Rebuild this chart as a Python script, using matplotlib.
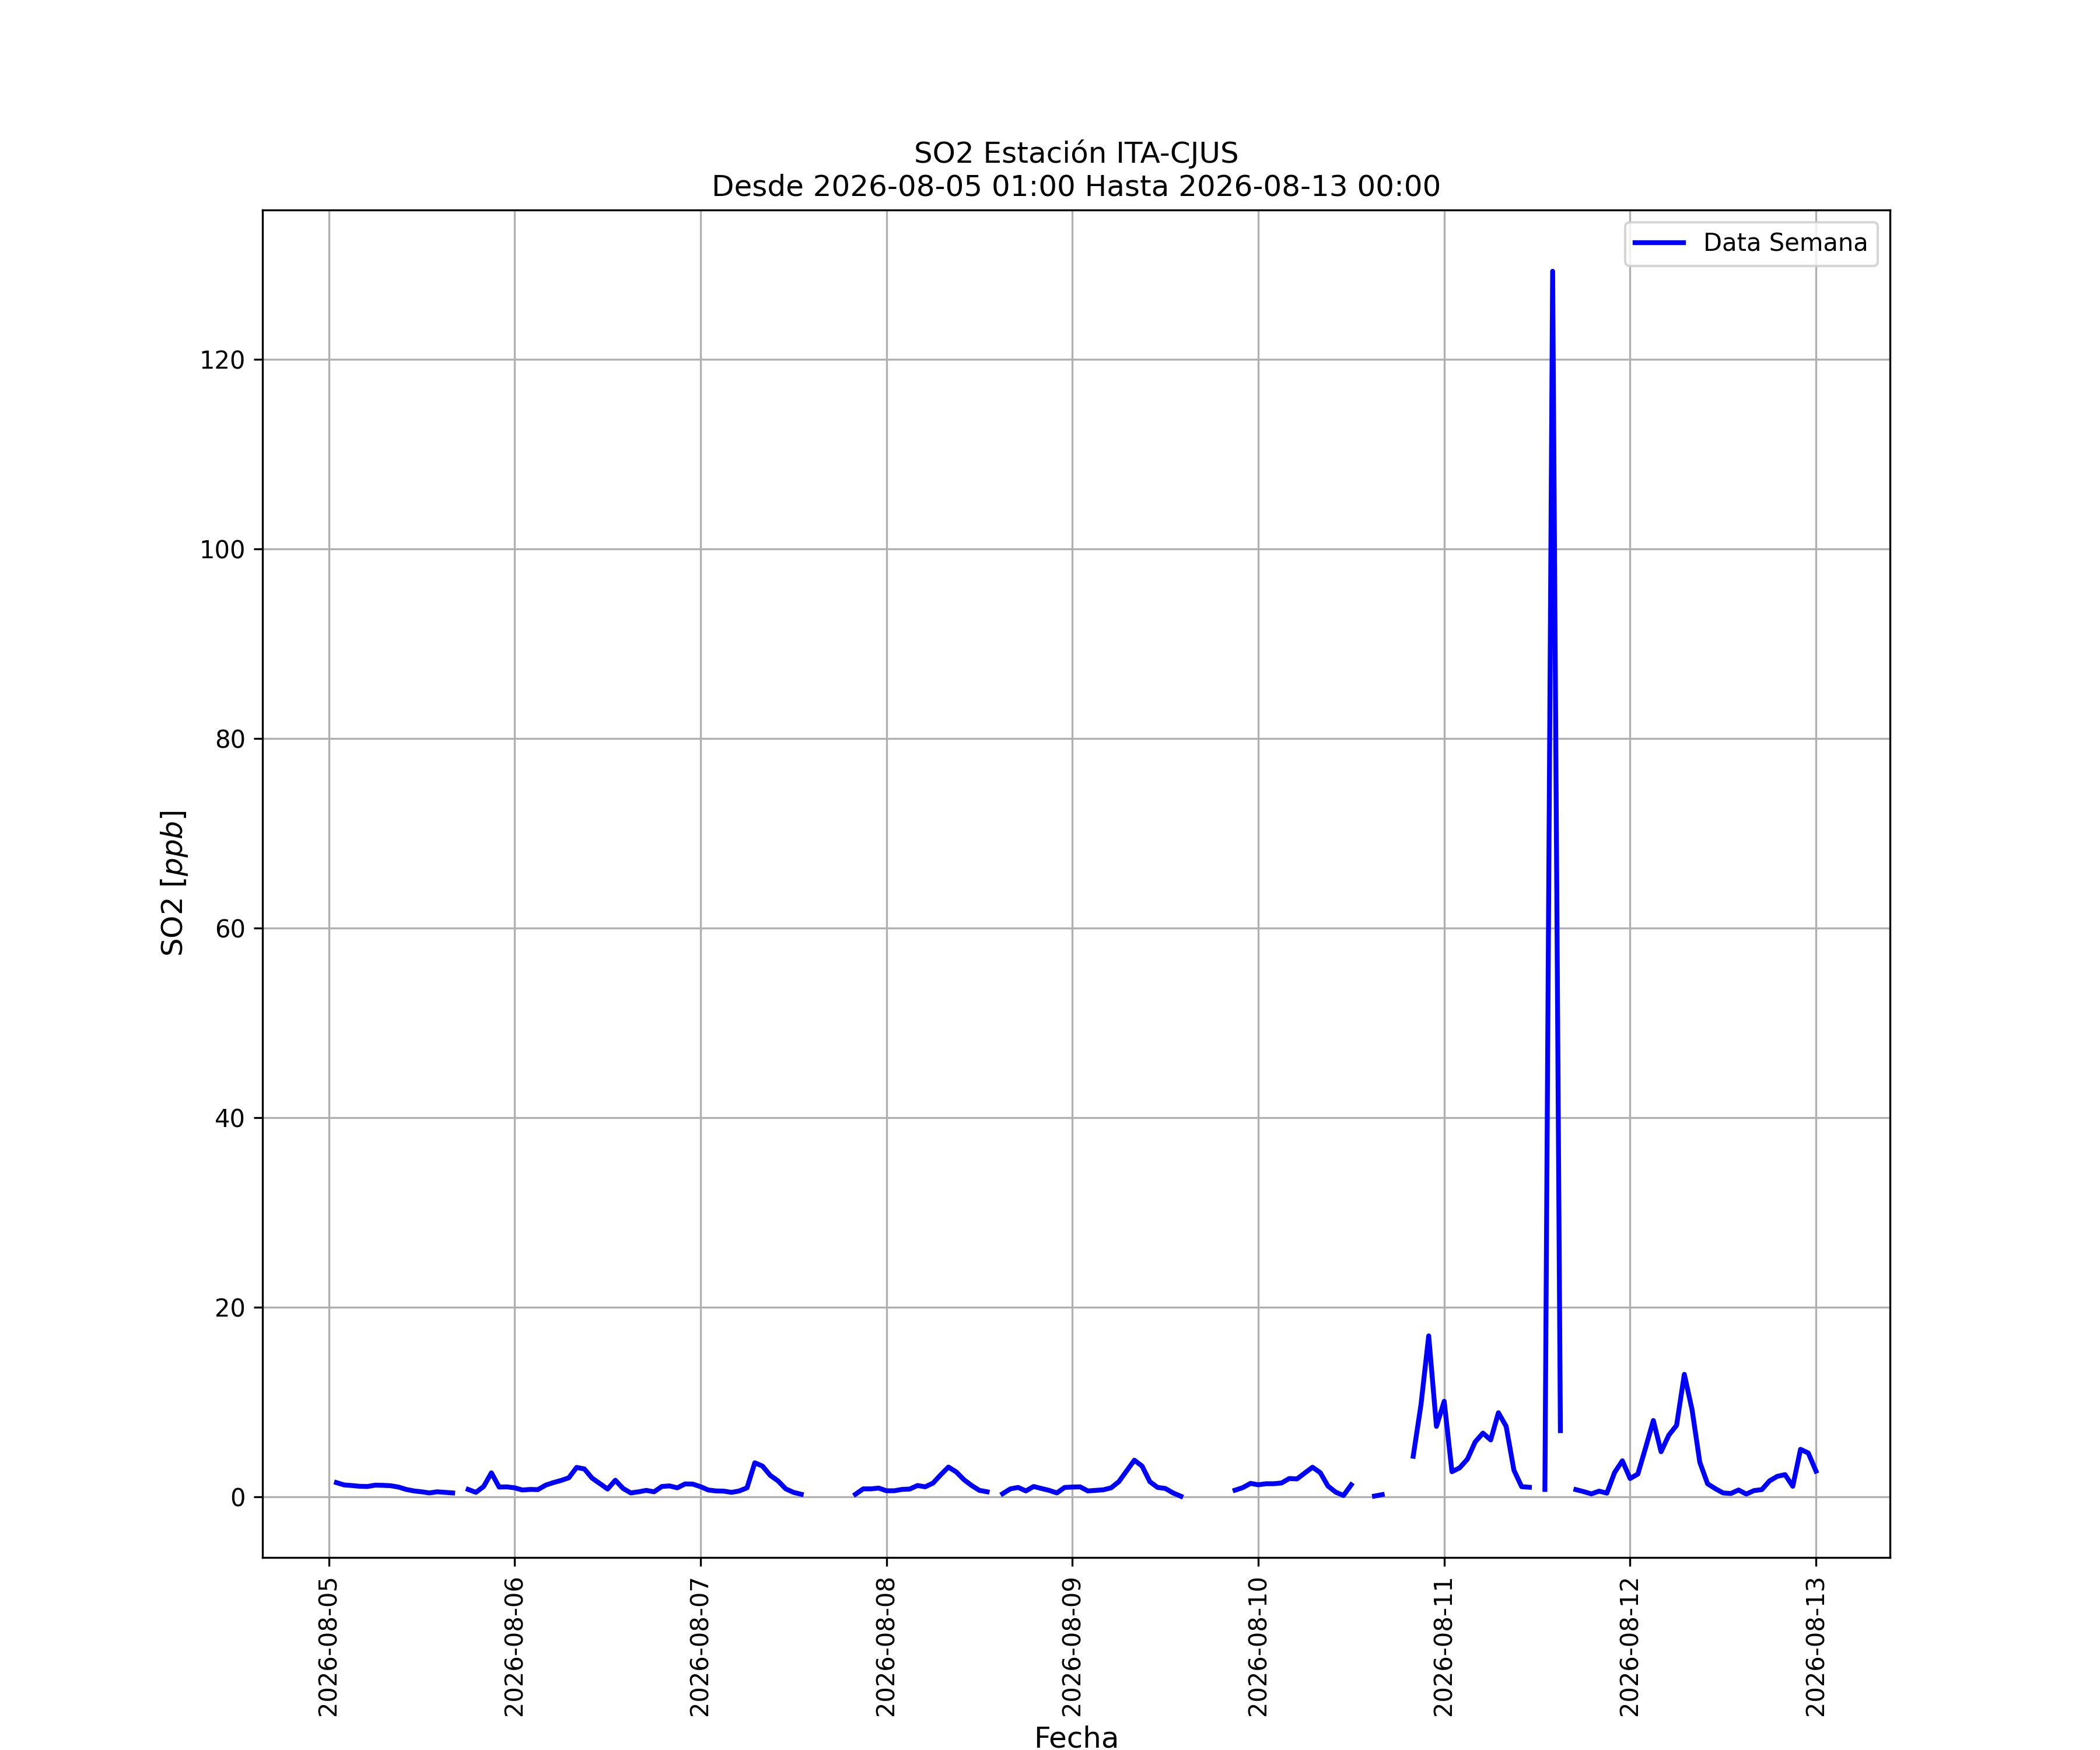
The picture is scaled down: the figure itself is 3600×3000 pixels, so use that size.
import numpy as np
import pandas as pd
import matplotlib
matplotlib.use("Agg")
import matplotlib.pyplot as plt
import matplotlib.dates as mdates

nan = np.nan

# Hourly SO2 values [ppb], one list per day (hours 01:00 .. 24:00)
day_05 = [1.52, 1.27, 1.21, 1.13, 1.11, 1.25, 1.23, 1.19, 1.05, 0.80, 0.64, 0.55,
          0.43, 0.55, 0.49, 0.43, nan, 0.80, 0.49, 1.11, 2.55, 1.05, 1.07, 0.97]
day_06 = [0.74, 0.80, 0.78, 1.25, 1.52, 1.75, 2.03, 3.12, 2.96, 1.99, 1.42, 0.84,
          1.77, 0.90, 0.43, 0.55, 0.70, 0.55, 1.11, 1.17, 0.97, 1.38, 1.36, 1.09]
day_07 = [0.74, 0.64, 0.62, 0.49, 0.64, 0.97, 3.61, 3.26, 2.28, 1.70, 0.86, 0.49,
          0.29, nan, nan, nan, nan, nan, nan, 0.29, 0.86, 0.86, 0.94, 0.66]
day_08 = [0.66, 0.80, 0.84, 1.21, 1.08, 1.46, 2.34, 3.16, 2.65, 1.83, 1.21, 0.70,
          0.55, nan, 0.35, 0.86, 1.01, 0.64, 1.11, 0.90, 0.70, 0.43, 1.01, 1.05]
day_09 = [1.07, 0.64, 0.70, 0.76, 0.97, 1.62, 2.75, 3.88, 3.26, 1.62, 1.01, 0.90,
          0.43, 0.08, nan, nan, nan, nan, nan, nan, 0.72, 0.99, 1.44, 1.29]
day_10 = [1.40, 1.40, 1.48, 1.95, 1.91, 2.53, 3.14, 2.57, 1.15, 0.51, 0.16, 1.29,
          nan, nan, 0.10, 0.25, nan, nan, nan, 4.30, 9.71, 17.0, 7.45, 10.1]
day_11 = [2.67, 3.08, 4.00, 5.81, 6.74, 6.02, 8.89, 7.45, 2.83, 1.09, 1.03, nan,
          0.80, 129.3, 7.00, nan, 0.78, 0.57, 0.33, 0.62, 0.41, 2.59, 3.82, 1.95]
day_12 = [2.42, 5.20, 8.07, 4.78, 6.53, 7.56, 12.94, 9.20, 3.66, 1.40, 0.88, 0.43,
          0.37, 0.74, 0.31, 0.68, 0.78, 1.70, 2.18, 2.36, 1.13, 5.03, 4.64, 2.73]

start_time = "2026-08-05 01:00"
end_time = "2026-08-13 00:00"
station = "ITA-CJUS"
series_label = "Data Semana"

values = np.array(day_05 + day_06 + day_07 + day_08 + day_09 + day_10 + day_11 + day_12,
                  dtype=float)
times = pd.date_range(start_time, periods=len(values), freq="h")

fig, ax = plt.subplots(figsize=(12, 10), dpi=300)
ax.plot(times, values, color="blue", linewidth=2, label=series_label)

ax.set_title(f"SO2 Estación {station}\nDesde {start_time} Hasta {end_time}", fontsize=12)
ax.set_xlabel("Fecha", fontsize=12)
ax.set_ylabel("SO2 [$ppb$]", fontsize=12)
ax.xaxis.set_major_locator(mdates.DayLocator())
ax.xaxis.set_major_formatter(mdates.DateFormatter("%Y-%m-%d"))
plt.setp(ax.get_xticklabels(), rotation=90)
ax.grid(True)
ax.legend(loc="upper right")

fig.savefig("out.png", dpi=300)
